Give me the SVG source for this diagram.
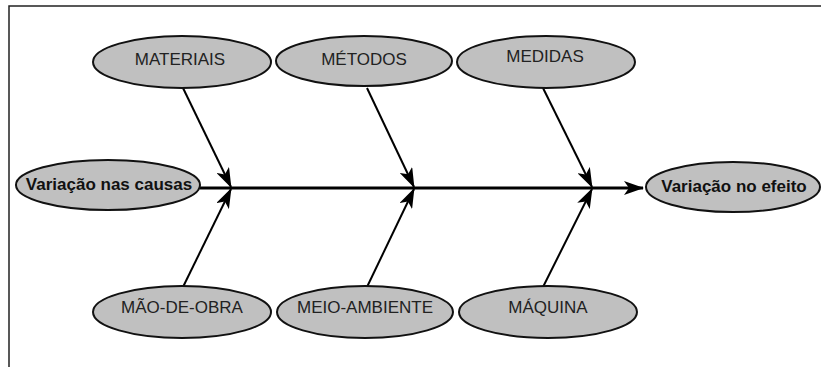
<svg xmlns="http://www.w3.org/2000/svg" width="821" height="367" viewBox="0 0 821 367">
<style>
.node ellipse{fill:#c0c0c0;stroke:#111;stroke-width:2}
.node text{font-family:"Liberation Sans",Arial,sans-serif;font-size:17px;fill:#222;text-anchor:middle}
.node text.b{font-weight:bold;font-size:17px;fill:#111}
.edge{stroke:#000;stroke-width:2;fill:none}
.spine{stroke:#000;stroke-width:3;fill:none}
</style>
<defs>
<marker id="ah" viewBox="0 0 20 14" refX="19" refY="7" markerWidth="20" markerHeight="14" markerUnits="userSpaceOnUse" orient="auto">
<path d="M0,0 L20,7 L0,14 L5,7 Z" fill="#000"/>
</marker>
</defs>
<rect width="821" height="367" fill="#fff"/>
<path d="M9,367 V6 H821" fill="none" stroke="#222" stroke-width="1.5"/>
<g id="connectors">
<line class="spine" x1="200" y1="188" x2="643" y2="188" marker-end="url(#ah)"/>
<line class="edge" x1="183" y1="88" x2="231" y2="187" marker-end="url(#ah)"/>
<line class="edge" x1="367" y1="88" x2="414" y2="187" marker-end="url(#ah)"/>
<line class="edge" x1="543" y1="88" x2="592" y2="187" marker-end="url(#ah)"/>
<line class="edge" x1="183" y1="287" x2="231" y2="189" marker-end="url(#ah)"/>
<line class="edge" x1="367" y1="287" x2="414" y2="189" marker-end="url(#ah)"/>
<line class="edge" x1="543" y1="287" x2="592" y2="189" marker-end="url(#ah)"/>
</g>
<g id="materiais" class="node"><ellipse cx="182" cy="62" rx="89" ry="26"/><text x="180" y="65">MATERIAIS</text></g>
<g id="metodos" class="node"><ellipse cx="364" cy="61" rx="88" ry="25"/><text x="364" y="65">MÉTODOS</text></g>
<g id="medidas" class="node"><ellipse cx="546" cy="62" rx="89" ry="26"/><text x="545" y="62">MEDIDAS</text></g>
<g id="causas" class="node"><ellipse cx="108" cy="185" rx="92" ry="25"/><text class="b" x="109" y="190">Variação nas causas</text></g>
<g id="efeito" class="node"><ellipse cx="733" cy="187" rx="87" ry="25"/><text class="b" x="734" y="192">Variação no efeito</text></g>
<g id="maodeobra" class="node"><ellipse cx="182" cy="312" rx="89" ry="26"/><text x="182" y="313">MÃO-DE-OBRA</text></g>
<g id="meioambiente" class="node"><ellipse cx="365" cy="312" rx="88" ry="26"/><text x="365" y="313">MEIO-AMBIENTE</text></g>
<g id="maquina" class="node"><ellipse cx="548" cy="312" rx="89" ry="26"/><text x="548" y="313">MÁQUINA</text></g>
</svg>
